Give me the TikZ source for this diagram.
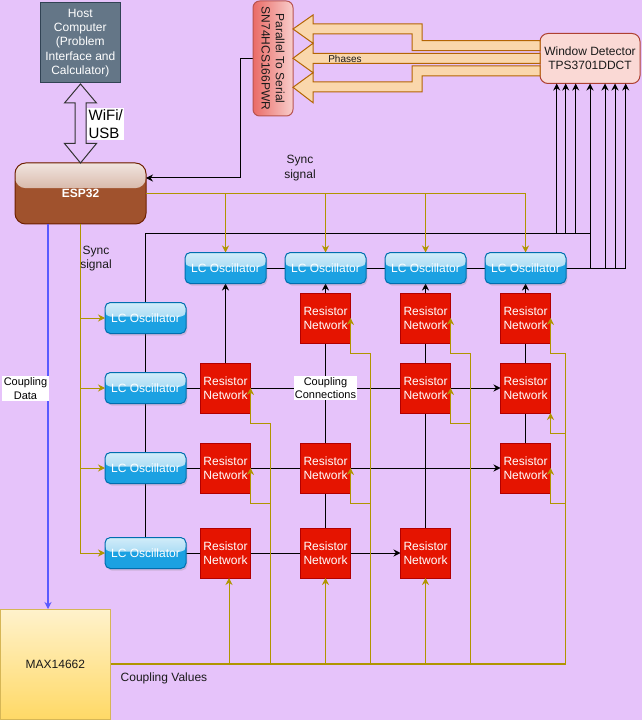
\documentclass[tikz,border=0pt]{standalone}
\usepackage{fontspec}
\setmainfont{Liberation Sans}
\usetikzlibrary{arrows.meta,backgrounds,shadows,calc}
\definecolor{bgp}{HTML}{E6C3FA}
\definecolor{goldc}{HTML}{B09500}
\definecolor{lcf}{HTML}{1BA1E2}
\definecolor{lcb}{HTML}{006EAF}
\definecolor{rnf}{HTML}{E51400}
\definecolor{rnb}{HTML}{B20000}
\definecolor{hostf}{HTML}{647687}
\definecolor{hostb}{HTML}{314354}
\definecolor{espf}{HTML}{A0522D}
\definecolor{espb}{HTML}{6D1F00}
\definecolor{ptsl}{HTML}{EA6B66}
\definecolor{ptsr}{HTML}{F8CECC}
\definecolor{ptsb}{HTML}{B85450}
\definecolor{wdf}{HTML}{FAD9D5}
\definecolor{wdb}{HTML}{AE4132}
\definecolor{flexf}{HTML}{FAD7AC}
\definecolor{flexb}{HTML}{B46504}
\definecolor{maxt}{HTML}{FFF2CC}
\definecolor{maxbot}{HTML}{FFD966}
\definecolor{maxb}{HTML}{D6B656}
\definecolor{bluel}{HTML}{5A5AFF}
\definecolor{txt}{HTML}{1A1A1A}
\newcommand\fsTwelve{\fontsize{9pt}{10.8pt}\selectfont}
\newcommand\fsEleven{\fontsize{8.25pt}{10pt}\selectfont}
\newcommand\fsTen{\fontsize{7.5pt}{9pt}\selectfont}
\newcommand\fsFifteen{\fontsize{11.25pt}{13.3pt}\selectfont}
\begin{document}
\begin{tikzpicture}[x=0.75pt,y=-0.75pt,
  blk/.style={draw=black, line width=0.75pt},
  arr/.style={-{Stealth[length=5.25pt,width=5.25pt]}},
  gold/.style={draw=goldc, line width=0.75pt},
  garr/.style={gold, -{Stealth[length=5.25pt,width=5.25pt]}},
  lcbox/.style={rounded corners=4pt, draw=lcb, line width=0.75pt, fill=lcf,
    minimum width=60.75pt, minimum height=23.25pt, inner sep=0pt, outer sep=0pt,
    text=white, font=\fsTwelve,
    drop shadow={opacity=0.25, shadow xshift=1pt, shadow yshift=-1.5pt},
    path picture={\fill[top color=lcf!20!white, bottom color=lcf!55!white]
      (path picture bounding box.north west) rectangle ([yshift=1pt]path picture bounding box.east);}},
  rnbox/.style={draw=rnb, fill=rnf, line width=0.75pt, minimum size=37.5pt,
    inner sep=0pt, outer sep=0pt, text=white, font=\fsTwelve, align=center},
  lbl/.style={font=\fsTwelve, text=txt, align=center, inner sep=1pt}
]
\useasboundingbox (0,0) rectangle (642,720);
\begin{pgfonlayer}{background}
\fill[bgp] (0,0) rectangle (642,720);
\end{pgfonlayer}

% ---------- top blocks
\node[draw=hostb, fill=hostf, line width=0.75pt, minimum size=60pt, inner sep=0pt,
  text=white, font=\fsTwelve, align=center] (host) at (80.3,43)
  {Host\\Computer\\(Problem\\Interface and\\Calculator)};

\node[rounded corners=8pt, draw=espb, line width=0.75pt, fill=espf,
  minimum width=98.25pt, minimum height=45.75pt, inner sep=0pt, outer sep=0pt,
  text=white, font=\bfseries\fsTwelve,
  path picture={\fill[top color=espf!15!white, bottom color=espf!75!white]
    (path picture bounding box.north west) rectangle ([yshift=4pt]path picture bounding box.east);}]
  (esp) at (80.5,193.5) {ESP32};

\node[rounded corners=5pt, draw=ptsb, line width=0.75pt, left color=ptsl, right color=ptsr,
  minimum width=30pt, minimum height=86.25pt, inner sep=0pt, outer sep=0pt] (pts) at (273,58.5) {};
\node[rotate=-90, font=\fsTwelve, text=txt, align=center] (ptstext) at (pts.center)
  {Parallel To Serial\\SN74HCS166PWR};

\node[rounded corners=6pt, draw=wdb, line width=0.75pt, fill=wdf,
  minimum width=75pt, minimum height=37.5pt, inner sep=0pt, outer sep=0pt,
  font=\fsTwelve, text=txt, align=center] (wd) at (590,58.5)
  {Window Detector\\TPS3701DDCT};

% WiFi/USB double arrow
\draw[draw=black!80, line width=0.75pt] (80.5,84) -- (96.5,103) -- (86,103) -- (86,143.5) -- (96.5,143.5)
  -- (80.5,163) -- (64.5,143.5) -- (75,143.5) -- (75,103) -- (64.5,103) -- cycle;
\node[fill=white, font=\fsFifteen, text=black, align=left, inner sep=1pt, anchor=west] (wifi) at (87,124) {WiFi/\\USB};

% flex arrows (phases)
\begin{scope}[fill=flexf, draw=flexb, line width=0.75pt]
\filldraw (540,50.7) -- (412,50.7) -- (412,34) -- (313,34) -- (313,43.3) -- (293,29) -- (313,15)
  -- (313,24) -- (422,24) -- (422,40.7) -- (540,40.7) -- cycle;
\filldraw (540,53.3) -- (313,53.3) -- (313,43.3) -- (293,58.3) -- (313,72.7) -- (313,63.3) -- (540,63.3) -- cycle;
\filldraw (540,66) -- (412,66) -- (412,82) -- (313,82) -- (313,72.7) -- (293,87.3) -- (313,102.7)
  -- (313,92) -- (422,92) -- (422,76) -- (540,76) -- cycle;
\end{scope}
\node[font=\fsTen, text=txt] (phases) at (345,58.5) {Phases};

% ---------- LC oscillators
\node[lcbox] (lc1) at (225.5,268) {LC Oscillator};
\node[lcbox] (lc2) at (325.5,268) {LC Oscillator};
\node[lcbox] (lc3) at (425.5,268) {LC Oscillator};
\node[lcbox] (lc4) at (525.5,268) {LC Oscillator};
\node[lcbox] (lcA) at (145.5,318) {LC Oscillator};
\node[lcbox] (lcB) at (145.5,388) {LC Oscillator};
\node[lcbox] (lcC) at (145.5,468) {LC Oscillator};
\node[lcbox] (lcD) at (145.5,553) {LC Oscillator};

% ---------- resistor networks
\node[rnbox] (rn12) at (325.5,318) {Resistor\\Network};
\node[rnbox] (rn13) at (425.5,318) {Resistor\\Network};
\node[rnbox] (rn14) at (525.5,318) {Resistor\\Network};
\node[rnbox] (rn21) at (225.5,388) {Resistor\\Network};
\node[rnbox] (rn23) at (425.5,388) {Resistor\\Network};
\node[rnbox] (rn24) at (525.5,388) {Resistor\\Network};
\node[rnbox] (rn31) at (225.5,468) {Resistor\\Network};
\node[rnbox] (rn32) at (325.5,468) {Resistor\\Network};
\node[rnbox] (rn34) at (525.5,468) {Resistor\\Network};
\node[rnbox] (rn41) at (225.5,553) {Resistor\\Network};
\node[rnbox] (rn42) at (325.5,553) {Resistor\\Network};
\node[rnbox] (rn43) at (425.5,553) {Resistor\\Network};

% ---------- MAX14662
\node[draw=maxb, line width=0.75pt, top color=maxt, bottom color=maxbot,
  minimum width=83pt, minimum height=82.5pt, inner sep=0pt, outer sep=0pt,
  font=\fsTwelve, text=txt] (max) at (55.4,664) {MAX14662};

% ---------- black connectors (behind nodes)
\begin{pgfonlayer}{background}
\draw[blk] (pts.west) -- (240,58.5) -- (240,178);
\draw[blk] (lcA.north) |- (590,233);
\draw[blk] (lcB.north) -- (lcA.south);
\draw[blk] (lcC.north) -- (lcB.south);
\draw[blk] (lcD.north) -- (lcC.south);
\draw[blk] (lc1.east) -- (625.7,268);
% rows
\draw[blk,arr] (lcB.east) -- (rn24.west);
\draw[blk,arr] (lcC.east) -- (rn34.west);
\draw[blk,arr] (lcD.east) -- (rn43.west);
% columns
\draw[blk,arr] (rn21.north) -- (lc1.south);
\draw[blk,arr] (rn42.north) -- (lc2.south);
\draw[blk,arr] (rn43.north) -- (lc3.south);
\draw[blk,arr] (rn34.north) -- (lc4.south);
\end{pgfonlayer}
\draw[blk,arr] (240,178) -- (esp.east |- 0,178);

% arrows into window detector
\draw[blk,arr] (556.7,233) -- (556.7,0 |- wd.south);
\draw[blk,arr] (565.7,233) -- (565.7,0 |- wd.south);
\draw[blk,arr] (575.7,233) -- (575.7,0 |- wd.south);
\draw[blk,arr] (590,268) -- (590,0 |- wd.south);
\draw[blk,arr] (605,268) -- (605,0 |- wd.south);
\draw[blk,arr] (615,268) -- (615,0 |- wd.south);
\draw[blk,arr] (625.7,268) -- (625.7,0 |- wd.south);

\node[fill=white, font=\fsEleven, text=black, align=center, inner sep=1pt] (cc) at (325.5,388.3) {Coupling\\Connections};

% ---------- sync signals (gold)
\draw[garr] (esp.east) -| (lc1.north);
\draw[garr] (esp.east) -| (lc2.north);
\draw[garr] (esp.east) -| (lc3.north);
\draw[garr] (esp.east) -| (lc4.north);
\draw[garr] (esp.south) |- (lcA.west);
\draw[garr] (esp.south) |- (lcB.west);
\draw[garr] (esp.south) |- (lcC.west);
\draw[garr] (esp.south) |- (lcD.west);
\node[lbl] (sync1) at (300,168) {Sync\\signal};
\node[lbl] (sync2) at (96,258.5) {Sync\\signal};

% ---------- coupling data (blue)
\draw[draw=bluel, line width=1pt, -{Stealth[length=5.25pt,width=5.25pt]}] (esp.south -| 48,0) -- (max.north -| 48,0);
\node[fill=white, font=\fsEleven, text=black, align=center, inner sep=1pt] (cd) at (25.5,388.5) {Coupling\\Data};

% ---------- coupling values bus
\coordinate (busR) at (565.7,664);
\draw[draw=goldc, line width=1.5pt] (max.east) -- (busR);
\node[font=\fsTwelve, text=txt, anchor=west] (cv) at (116,678.5) {Coupling Values};

\draw[garr] (229,664) -- (rn41.south -| 229,0);
\draw[garr] (325.5,664) -- (rn42.south);
\draw[garr] (425.5,664) -- (rn43.south);
\draw[garr] (270,664) -- (270,503) -| (rn31.east);
\draw[garr] (270,664) -- (270,423) -| (rn21.east);
\draw[garr] (370,664) -- (370,503) -| (rn32.east);
\draw[garr] (370,664) -- (370,353) -| (rn12.east);
\draw[garr] (470,664) -- (470,353) -| (rn13.east);
\draw[garr] (470,664) -- (470,423) -| (rn23.east);
\draw[garr] (busR) -- (565.7,353) -| (rn14.east);
\draw[garr] (busR) -- (565.7,433) -| (rn24.south east);
\draw[garr] (busR) -- (565.7,503) -| (rn34.east);
\end{tikzpicture}
\end{document}
